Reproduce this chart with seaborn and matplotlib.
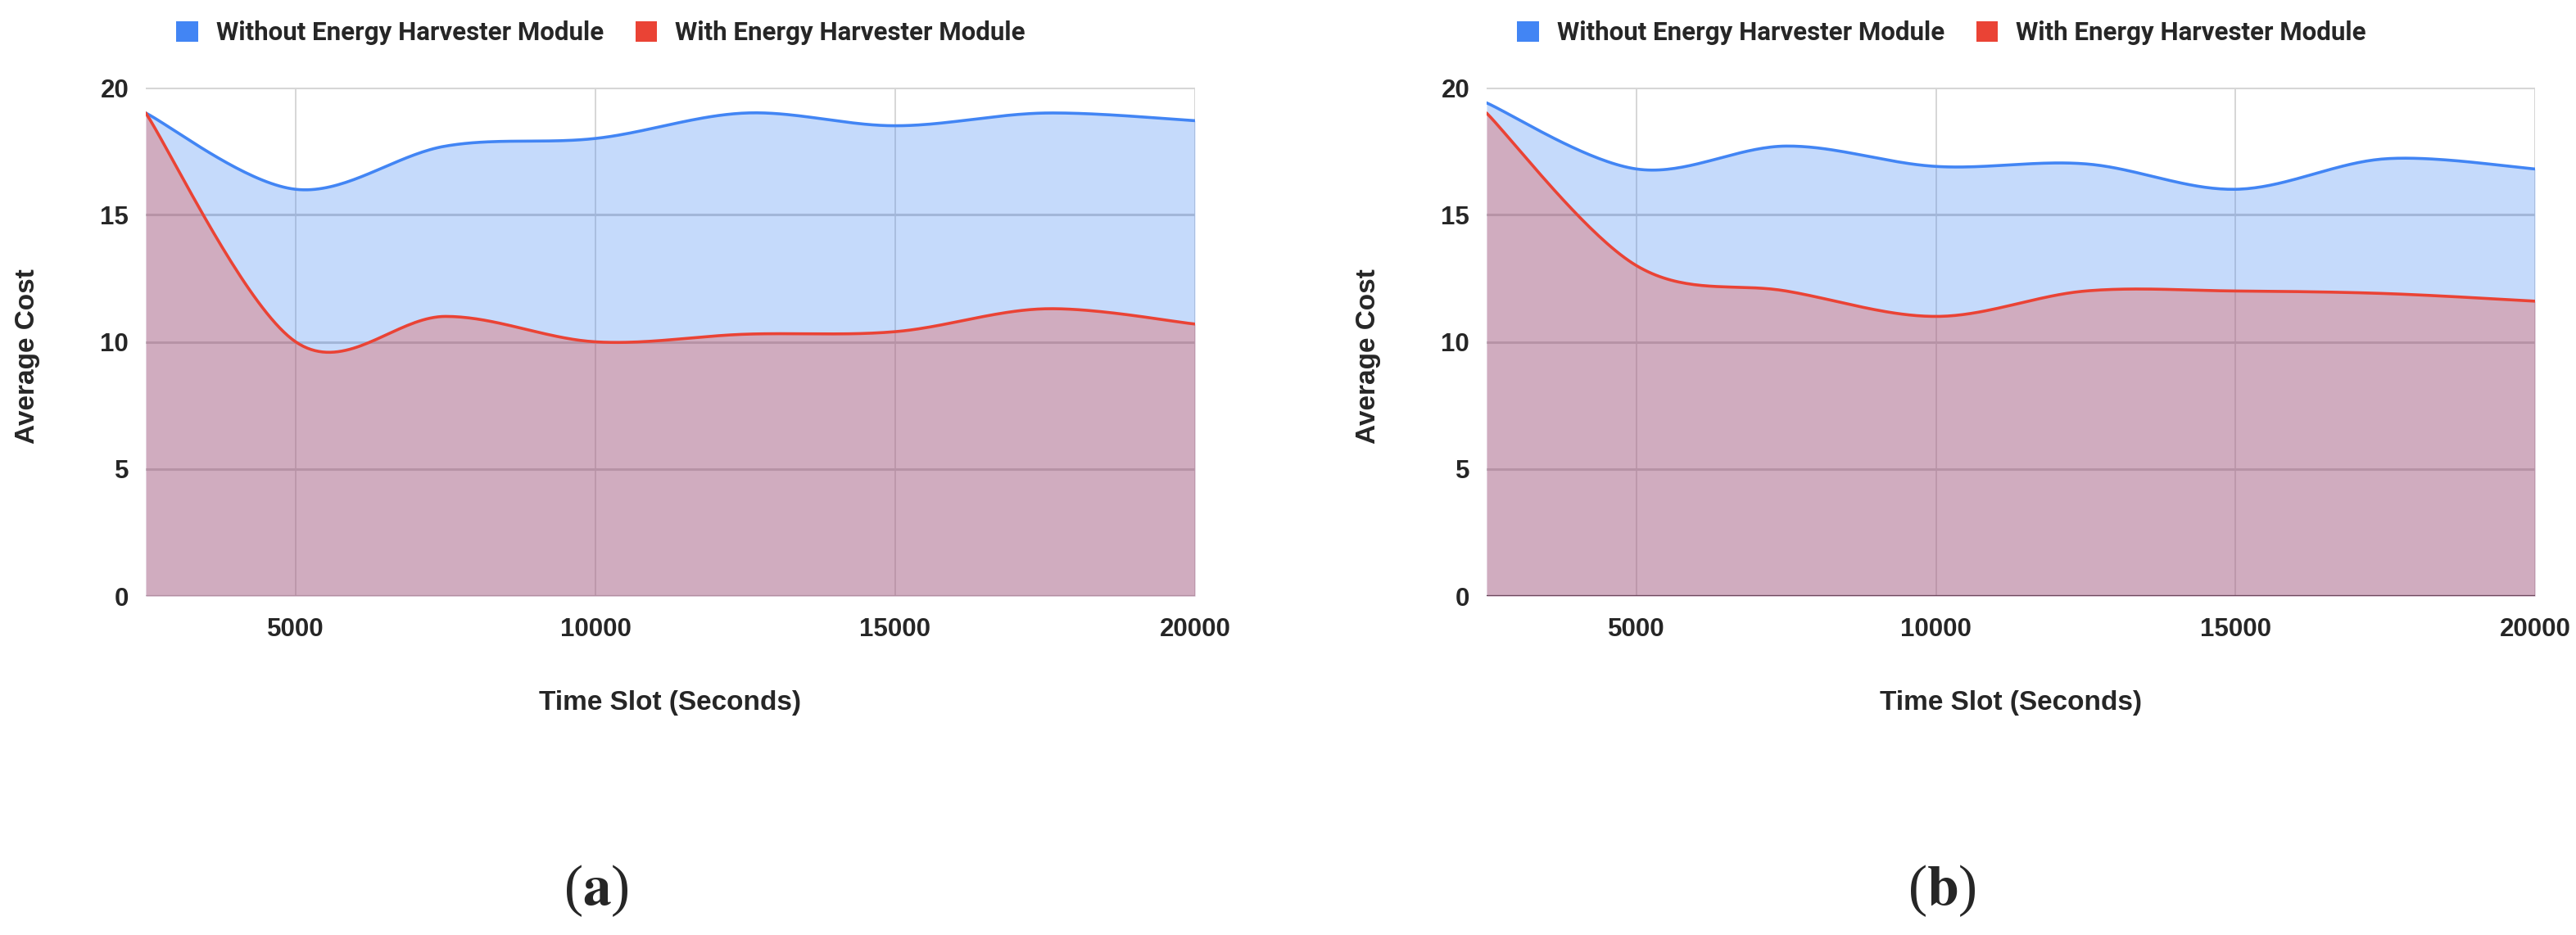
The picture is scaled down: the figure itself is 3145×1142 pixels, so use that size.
import numpy as np
import pandas as pd
import seaborn as sns
import matplotlib.pyplot as plt
from matplotlib.patches import Patch

# data
time_slots = [2500, 5000, 7500, 10000, 12500, 15000, 17500, 20000]
a_without = [19.0, 16.0, 17.7, 18.0, 19.0, 18.5, 19.0, 18.7]
a_with = [19.0, 10.0, 11.0, 10.0, 10.3, 10.4, 11.3, 10.7]
b_without = [19.4, 16.8, 17.7, 16.9, 17.0, 16.0, 17.2, 16.8]
b_with = [19.0, 13.0, 12.0, 11.0, 12.0, 12.0, 11.9, 11.6]
series_names = ["Without Energy Harvester Module", "With Energy Harvester Module"]
x_ticks = [5000, 10000, 15000, 20000]
y_ticks = [0, 5, 10, 15, 20]
panel_labels = ["a", "b"]

BLUE = "#4285F4"
RED = "#EA4335"

sns.set_style("white")
plt.rcParams["font.family"] = ["Liberation Sans", "DejaVu Sans"]
plt.rcParams["mathtext.fontset"] = "stix"


def smooth(xs, ys, n=40):
    # catmull-rom style curve through the points (like the chart's curved lines)
    x = np.asarray(xs, float)
    y = np.asarray(ys, float)
    px = np.concatenate([[x[0]], x, [x[-1]]])
    py = np.concatenate([[y[0]], y, [y[-1]]])
    t = np.linspace(0, 1, n)
    out_x, out_y = [], []
    for i in range(len(x) - 1):
        p0 = np.array([px[i], py[i]])
        p1 = np.array([px[i + 1], py[i + 1]])
        p2 = np.array([px[i + 2], py[i + 2]])
        p3 = np.array([px[i + 3], py[i + 3]])
        c1 = p1 + (p2 - p0) / 6
        c2 = p2 - (p3 - p1) / 6
        tt = t[:, None] if i == 0 else t[1:, None]
        pts = ((1 - tt) ** 3) * p1 + 3 * ((1 - tt) ** 2) * tt * c1 \
            + 3 * (1 - tt) * tt ** 2 * c2 + tt ** 3 * p2
        out_x.extend(pts[:, 0])
        out_y.extend(pts[:, 1])
    return np.array(out_x), np.array(out_y)


def draw_panel(ax, without, with_, base_color):
    rows = []
    for name, vals in zip(series_names, [without, with_]):
        sx, sy = smooth(time_slots, vals)
        rows.append(pd.DataFrame({"t": sx, "cost": sy, "series": name}))
    df = pd.concat(rows, ignore_index=True)

    for xt in x_ticks:
        ax.axvline(xt, color="#cccccc", lw=1.1, zorder=0)
    for yt in y_ticks[1:]:
        ax.axhline(yt, color="#cccccc" if yt < 20 else "#d6d6d6", lw=2.2, zorder=0)
    ax.axhline(0, color=base_color, lw=2.4, zorder=0)

    for name, col in zip(series_names, [BLUE, RED]):
        d = df[df["series"] == name]
        ax.fill_between(d["t"], d["cost"], 0, color=col, alpha=0.3, lw=0, zorder=1)

    sns.lineplot(data=df, x="t", y="cost", hue="series", palette=[BLUE, RED],
                 lw=2.6, ax=ax, legend=False, sort=False, estimator=None, zorder=3)

    ax.set_xlim(2500, 20000)
    ax.set_ylim(0, 20)
    ax.set_xticks(x_ticks)
    ax.set_yticks(y_ticks)
    ax.tick_params(length=0, labelsize=22.5)
    ax.tick_params(axis="x", pad=19)
    ax.tick_params(axis="y", pad=15)
    for lab in ax.get_xticklabels() + ax.get_yticklabels():
        lab.set_fontweight("bold")
    for s in ax.spines.values():
        s.set_visible(False)

    ax.set_xlabel("Time Slot (Seconds)", fontsize=24, fontweight="bold")
    ax.set_ylabel("Average Cost", fontsize=24, fontweight="bold")
    ax.xaxis.set_label_coords(0.5, -0.185)
    ax.yaxis.set_label_coords(-0.101, 0.472)

    handles = [Patch(facecolor=BLUE, edgecolor="none"), Patch(facecolor=RED, edgecolor="none")]
    ax.legend(handles, series_names, loc="center left", bbox_to_anchor=(0.029, 1.108),
              ncol=2, frameon=False, borderpad=0, borderaxespad=0,
              handlelength=0.85, handleheight=0.85,
              handletextpad=0.7, columnspacing=1.25,
              prop={"family": ["Roboto", "DejaVu Sans"], "weight": "bold", "size": 22.5})


fig = plt.figure(figsize=(31.45, 11.42), dpi=100)
ax_a = fig.add_axes([0.0566, 0.3625, 0.4073, 0.5438])
ax_b = fig.add_axes([0.5771, 0.3625, 0.4070, 0.5438])

draw_panel(ax_a, a_without, a_with, "#c4c4c4")
draw_panel(ax_b, b_without, b_with, "#333333")

for lbl, xc in zip(panel_labels, [728 / 3145, 2371 / 3145]):
    fig.text(xc, 1 - 1088 / 1142, "($\\mathbf{%s}$)" % lbl, ha="center", va="center",
             fontsize=50, family=["Liberation Serif", "DejaVu Serif"])

fig.savefig("out.png", dpi=100, facecolor="white")
